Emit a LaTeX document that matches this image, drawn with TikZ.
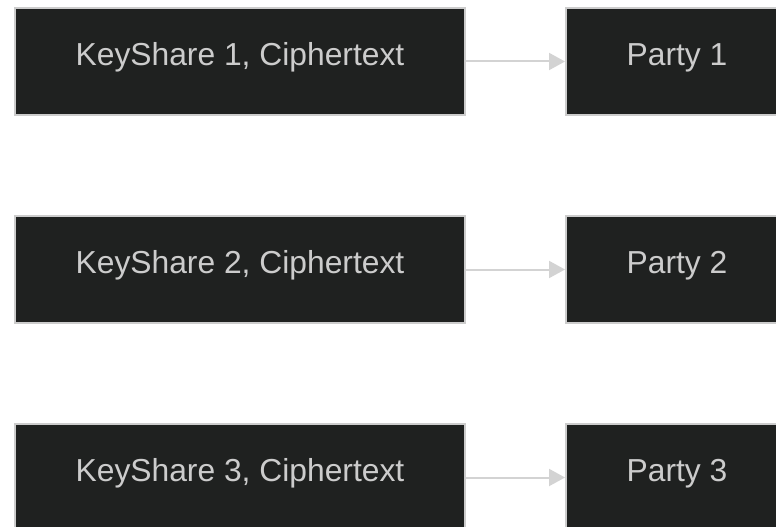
\documentclass[tikz,border=0pt]{standalone}
\usepackage{fontspec}
\setmainfont{Liberation Sans}
\usetikzlibrary{arrows.meta}
\definecolor{boxfill}{RGB}{31,33,32}
\definecolor{boxline}{RGB}{204,204,204}
\definecolor{txt}{RGB}{204,204,204}
\definecolor{edge}{RGB}{211,211,211}
\tikzset{
  keybox/.style={draw=boxline, fill=boxfill, line width=2pt, minimum width=450pt, minimum height=107pt, inner sep=0pt, text height=20pt, text depth=11.6pt, text=txt, font=\fontsize{31.8}{36}\selectfont},
  partybox/.style={keybox, minimum width=222pt},
  conn/.style={draw=edge, line width=2pt, -{Triangle[length=16pt,width=17pt]}}
}
\begin{document}
\begin{tikzpicture}[x=1pt,y=-1pt]
\useasboundingbox (0,0) rectangle (776,527);
\node[keybox] (k1) at (240,61.5) {KeyShare 1, Ciphertext};
\node[partybox] (p1) at (677,61.5) {Party 1};
\node[keybox] (k2) at (240,269.5) {KeyShare 2, Ciphertext};
\node[partybox] (p2) at (677,269.5) {Party 2};
\node[keybox] (k3) at (240,477.5) {KeyShare 3, Ciphertext};
\node[partybox] (p3) at (677,477.5) {Party 3};
\draw[conn] (k1) -- (p1);
\draw[conn] (k2) -- (p2);
\draw[conn] (k3) -- (p3);
\end{tikzpicture}
\end{document}
